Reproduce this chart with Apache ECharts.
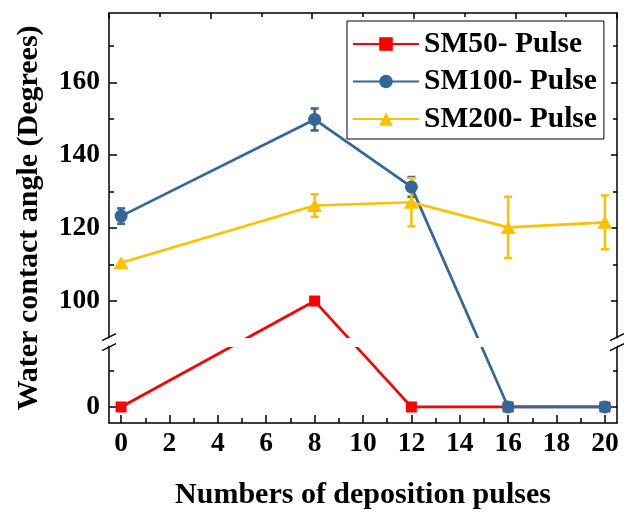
<!DOCTYPE html>
<html>
<head>
<meta charset="utf-8">
<script src="https://cdn.jsdelivr.net/npm/echarts@6.0.0/dist/echarts.min.js"></script>
<style>
html,body{margin:0;padding:0;background:#fff;}
#c{width:624px;height:512px;}
</style>
</head>
<body>
<div id="c"></div>
<script>
const xs = [0, 8, 12, 16, 20];
const sm50 = [0, 100, 0, 0, 0];
const sm100 = [123.3, 149.8, 131.3, 0, 0];
const sm100Err = [2.1, 3.0, 2.7, 0, 0];
const sm200 = [110.5, 126.2, 127.1, 120.2, 121.6];
const sm200Err = [0, 3.1, 6.6, 8.4, 7.4];
const xTicks = [0, 2, 4, 6, 8, 10, 12, 14, 16, 18, 20];
const xMinorTicks = [1, 3, 5, 7, 9, 11, 13, 15, 17, 19];
const yTicks = [0, 100, 120, 140, 160];
const yMinorTicks = [10, 110, 130, 150, 170];
const seriesNames = ['SM50- Pulse', 'SM100- Pulse', 'SM200- Pulse'];
const colors = ['#FF0000', '#336699', '#FFC000'];
const yBreak = { start: 16.7, end: 89.85, gap: 2.2 };

const FONT = 'Liberation Serif';
const chart = echarts.init(document.getElementById('c'), null, { renderer: 'canvas' });

const pairs = (ys) => xs.map((x, i) => [x, ys[i]]);
const errData = (ys, es) => xs.map((x, i) => [x, ys[i], es[i]]).filter(d => d[2] > 0);

const breakCfg = () => ({
  breaks: [{ start: yBreak.start, end: yBreak.end, gap: yBreak.gap, isExpanded: false }],
  breakArea: {
    show: true,
    expandOnClick: false,
    zigzagAmplitude: 0,
    zigzagZ: 100,
    itemStyle: { color: '#fff', borderWidth: 0, borderColor: 'rgba(0,0,0,0)', opacity: 1 }
  }
});

const yBase = (extra) => Object.assign({
  type: 'value', min: -4.4, max: 179, gridIndex: 0,
  splitLine: { show: false },
}, breakCfg(), extra);

function errSeries(name, ys, es, color) {
  return {
    type: 'custom', name: name + ' err', xAxisIndex: 0, yAxisIndex: 0, z: 1,
    data: errData(ys, es),
    encode: { x: 0, y: 1 },
    renderItem: function (params, api) {
      const x = api.value(0), y = api.value(1), e = api.value(2);
      const top = api.coord([x, y + e]);
      const bot = api.coord([x, y - e]);
      const hw = 4;
      const st = { stroke: color, lineWidth: 2.6 };
      return {
        type: 'group',
        children: [
          { type: 'line', shape: { x1: top[0], y1: top[1], x2: bot[0], y2: bot[1] }, style: st },
          { type: 'line', shape: { x1: top[0] - hw, y1: top[1], x2: top[0] + hw, y2: top[1] }, style: st },
          { type: 'line', shape: { x1: bot[0] - hw, y1: bot[1], x2: bot[0] + hw, y2: bot[1] }, style: st }
        ]
      };
    }
  };
}

const axisLineStyle = { color: '#000', width: 1.5 };

const option = {
  animation: false,
  backgroundColor: '#fff',
  grid: { left: 109, right: 7, top: 13, bottom: 89, containLabel: false, outerBoundsMode: 'none' },
  legend: {
    orient: 'vertical', left: 347, top: 21,
    padding: [7, 7, 4, 5],
    itemWidth: 66, itemHeight: 17, itemGap: 5.5,
    borderColor: '#000', borderWidth: 1, borderRadius: 0,
    backgroundColor: '#fff',
    data: seriesNames,
    textStyle: { fontFamily: FONT, fontWeight: 'bold', fontSize: 29.5, color: '#000', lineHeight: 32 }
  },
  xAxis: [
    {
      type: 'value', min: -0.5, max: 20.5, position: 'bottom',
      name: 'Numbers of deposition pulses', nameLocation: 'middle', nameGap: 57,
      nameTextStyle: { fontFamily: FONT, fontWeight: 'bold', fontSize: 30, color: '#000' },
      axisLine: { show: true, onZero: false, lineStyle: axisLineStyle },
      axisTick: { show: true, inside: true, length: 8, customValues: xTicks, lineStyle: { color: '#000', width: 1.5 } },
      axisLabel: { show: true, customValues: xTicks, margin: 7, fontFamily: FONT, fontWeight: 'bold', fontSize: 27.5, color: '#000' },
      splitLine: { show: false }
    },
    {
      type: 'value', min: -0.5, max: 20.5, position: 'bottom',
      axisLine: { show: false, onZero: false },
      axisTick: { show: true, inside: true, length: 5, customValues: xMinorTicks, lineStyle: { color: '#000', width: 1.5 } },
      axisLabel: { show: false },
      splitLine: { show: false }
    },
    {
      type: 'value', min: 0, max: 10, interval: 2, position: 'top',
      axisLine: { show: true, onZero: false, lineStyle: axisLineStyle },
      axisTick: { show: true, inside: true, length: 6, lineStyle: { color: '#000', width: 1.5 } },
      minorTick: { show: true, splitNumber: 2, length: 4, lineStyle: { color: '#000', width: 1.5 } },
      axisLabel: { show: false },
      splitLine: { show: false }
    }
  ],
  yAxis: [
    yBase({
      position: 'left',
      name: 'Water contact angle (Degrees)', nameLocation: 'middle', nameGap: 65, nameRotate: 90,
      nameTextStyle: { fontFamily: FONT, fontWeight: 'bold', fontSize: 30, color: '#000' },
      axisLine: { show: true, onZero: false, lineStyle: axisLineStyle },
      axisTick: { show: true, inside: true, length: 8, customValues: yTicks, lineStyle: { color: '#000', width: 1.5 } },
      axisLabel: { show: true, customValues: yTicks, margin: 9, fontFamily: FONT, fontWeight: 'bold', fontSize: 27.5, color: '#000' }
    }),
    yBase({
      position: 'left',
      axisLine: { show: false, onZero: false },
      axisTick: { show: true, inside: true, length: 5, customValues: yMinorTicks, lineStyle: { color: '#000', width: 1.5 } },
      axisLabel: { show: false }
    }),
    yBase({
      position: 'right',
      axisLine: { show: true, onZero: false, lineStyle: axisLineStyle },
      axisTick: { show: true, inside: true, length: 6, customValues: yTicks, lineStyle: { color: '#000', width: 1.5 } },
      axisLabel: { show: false }
    }),
    yBase({
      position: 'right',
      axisLine: { show: false, onZero: false },
      axisTick: { show: true, inside: true, length: 4, customValues: yMinorTicks, lineStyle: { color: '#000', width: 1.5 } },
      axisLabel: { show: false }
    })
  ],
  series: [
    errSeries(seriesNames[1], sm100, sm100Err, colors[1]),
    errSeries(seriesNames[2], sm200, sm200Err, colors[2]),
    {
      type: 'line', name: seriesNames[0], data: pairs(sm50), z: 3,
      symbol: 'rect', symbolSize: 11, color: colors[0],
      lineStyle: { width: 2.7, color: colors[0] }, itemStyle: { color: colors[0] }
    },
    {
      type: 'line', name: seriesNames[1], data: pairs(sm100), z: 4,
      symbol: 'circle', symbolSize: 13, color: colors[1],
      lineStyle: { width: 2.7, color: colors[1] }, itemStyle: { color: colors[1] }
    },
    {
      type: 'line', name: seriesNames[2], data: pairs(sm200), z: 5,
      symbol: 'triangle', symbolSize: [15, 13], color: colors[2],
      lineStyle: { width: 2.7, color: colors[2] }, itemStyle: { color: colors[2] }
    }
  ]
};
chart.setOption(option);

// break marks (double slashes) on left and right axes
function drawBreakMarks() {
  const yLo = chart.convertToPixel({ yAxisIndex: 0 }, yBreak.start);
  const yHi = chart.convertToPixel({ yAxisIndex: 0 }, yBreak.end);
  const xL = chart.convertToPixel({ xAxisIndex: 0 }, -0.5);
  const xR = chart.convertToPixel({ xAxisIndex: 0 }, 20.5);
  const els = [];
  [xL, xR].forEach(function (x) {
    [yHi - 1, yLo + 1].forEach(function (y) {
      els.push({ type: 'line', z: 200, shape: { x1: x - 7, y1: y + 3.5, x2: x + 7, y2: y - 3.5 }, style: { stroke: '#000', lineWidth: 1.5 } });
    });
  });
  chart.setOption({ graphic: els });
}
drawBreakMarks();
</script>
</body>
</html>
